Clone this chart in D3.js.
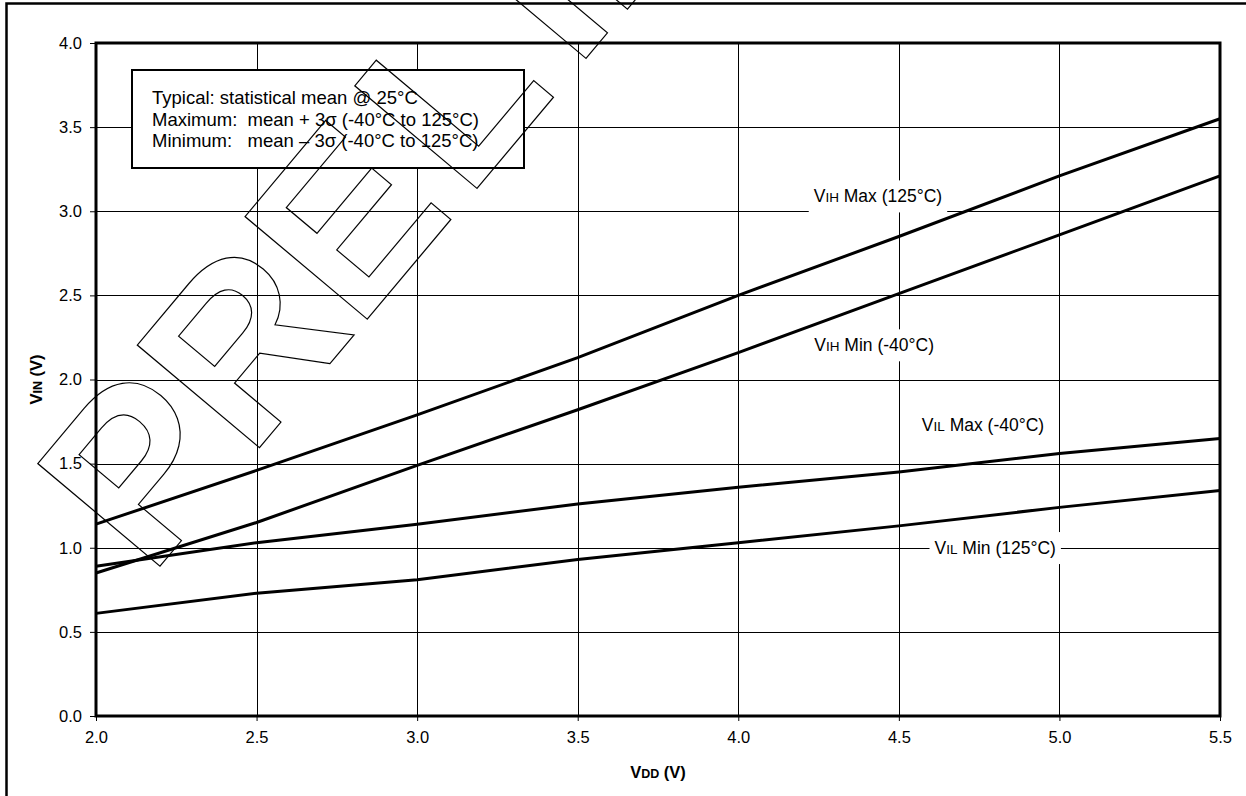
<!DOCTYPE html>
<html>
<head>
<meta charset="utf-8">
<script src="https://cdn.jsdelivr.net/npm/d3@7"></script>
<style>
  body { margin: 0; background: #fff; }
  text { font-family: "Liberation Sans", Arial, sans-serif; fill: #000; }
</style>
</head>
<body>
<div id="chart"></div>
<script>
var width = 1246;
var height = 796;

// data
var vdd = [2.0, 2.5, 3.0, 3.5, 4.0, 4.5, 5.0, 5.5];
var vihMax = [1.14, 1.46, 1.79, 2.13, 2.50, 2.85, 3.21, 3.55];
var vihMin = [0.85, 1.15, 1.49, 1.82, 2.16, 2.51, 2.86, 3.21];
var vilMax = [0.89, 1.03, 1.14, 1.26, 1.36, 1.45, 1.56, 1.65];
var vilMin = [0.61, 0.73, 0.81, 0.93, 1.03, 1.13, 1.24, 1.34];

var xTicks = [2.0, 2.5, 3.0, 3.5, 4.0, 4.5, 5.0, 5.5];
var yTicks = [0.0, 0.5, 1.0, 1.5, 2.0, 2.5, 3.0, 3.5, 4.0];

var seriesNames = [
  ["V", "IH", " Max (125°C)"],
  ["V", "IH", " Min (-40°C)"],
  ["V", "IL", " Max (-40°C)"],
  ["V", "IL", " Min (125°C)"]
];
// where each series label sits, in axis units
var labelAt = [[4.435, 3.09], [4.423, 2.205], [4.762, 1.73], [4.80, 1.0]];

var legendLines = [
  "Typical: statistical mean @ 25°C",
  "Maximum:  mean + 3σ (-40°C to 125°C)",
  "Minimum:   mean – 3σ (-40°C to 125°C)"
];

// watermark, split so the spacing can follow the original
var watermark = ["PRE", "L", "IMINARY"];

var series = [vihMax, vihMin, vilMax, vilMin];

var margin = {left: 96, top: 43, right: 26, bottom: 80};

var x = d3.scaleLinear().domain([2.0, 5.5]).range([margin.left, width - margin.right]);
var y = d3.scaleLinear().domain([0, 4.0]).range([height - margin.bottom, margin.top]);

var svg = d3.select("#chart")
  .append("svg")
  .attr("width", width)
  .attr("height", height);

svg.append("rect")
  .attr("width", "100%")
  .attr("height", "100%")
  .attr("fill", "white");

// outer frame (runs off right / bottom edge)
svg.append("rect")
  .attr("x", 6.5).attr("y", 3.5)
  .attr("width", width + 20).attr("height", height + 20)
  .attr("fill", "none")
  .attr("stroke", "#000")
  .attr("stroke-width", 2.5);

// grid
var grid = svg.append("g");
grid.selectAll("line.gx")
  .data(xTicks)
  .enter().append("line")
  .attr("x1", function(d) { return Math.round(x(d)) + 0.5; })
  .attr("x2", function(d) { return Math.round(x(d)) + 0.5; })
  .attr("y1", y(4.0)).attr("y2", y(0))
  .attr("stroke", "#000").attr("stroke-width", 1);
grid.selectAll("line.gy")
  .data(yTicks)
  .enter().append("line")
  .attr("y1", function(d) { return Math.round(y(d)) + 0.5; })
  .attr("y2", function(d) { return Math.round(y(d)) + 0.5; })
  .attr("x1", x(2.0)).attr("x2", x(5.5))
  .attr("stroke", "#000").attr("stroke-width", 1);

// axes
var xAxis = d3.axisBottom(x).tickValues(xTicks).tickFormat(d3.format(".1f")).tickSize(5).tickPadding(10);
var yAxis = d3.axisLeft(y).tickValues(yTicks).tickFormat(d3.format(".1f")).tickSize(6).tickPadding(8);

var gx = svg.append("g")
  .attr("transform", "translate(0," + y(0) + ")")
  .call(xAxis);
var gy = svg.append("g")
  .attr("transform", "translate(" + x(2.0) + ",0)")
  .call(yAxis);
[gx, gy].forEach(function(g) {
  g.select(".domain").remove();
  g.selectAll(".tick line").attr("stroke", "#000");
  g.selectAll(".tick text")
    .style("font-family", '"Liberation Sans", Arial, sans-serif')
    .style("font-size", "16.5px")
    .attr("fill", "#000");
});

// data lines
var line = d3.line()
  .x(function(d, i) { return x(vdd[i]); })
  .y(function(d) { return y(d); });

svg.selectAll("path.series")
  .data(series)
  .enter().append("path")
  .attr("class", "series")
  .attr("d", line)
  .attr("fill", "none")
  .attr("stroke", "#000")
  .attr("stroke-width", 3);

// plot border
svg.append("rect")
  .attr("x", x(2.0)).attr("y", y(4.0))
  .attr("width", x(5.5) - x(2.0))
  .attr("height", y(0) - y(4.0))
  .attr("fill", "none")
  .attr("stroke", "#000")
  .attr("stroke-width", 3);

// series labels with white knockout
seriesNames.forEach(function(n, i) {
  var g = svg.append("g");
  var bg = g.append("rect").attr("fill", "white");
  var t = g.append("text")
    .attr("x", x(labelAt[i][0]))
    .attr("y", y(labelAt[i][1]))
    .attr("dy", "0.36em")
    .attr("text-anchor", "middle")
    .style("font-size", "17.5px");
  t.append("tspan").text(n[0]);
  t.append("tspan").style("font-size", "13.5px").text(n[1]);
  t.append("tspan").text(n[2]);
  var b = t.node().getBBox();
  bg.attr("x", b.x - 5).attr("y", b.y - 6)
    .attr("width", b.width + 10).attr("height", b.height + 12);
});

// axis titles
var xt = svg.append("text")
  .attr("x", (x(2.0) + x(5.5)) / 2)
  .attr("y", 778)
  .attr("text-anchor", "middle")
  .style("font-weight", "bold")
  .style("font-size", "16.5px");
xt.append("tspan").text("V");
xt.append("tspan").style("font-size", "12.5px").text("DD");
xt.append("tspan").text(" (V)");

var yt = svg.append("text")
  .attr("transform", "translate(42," + y(2.0) + ") rotate(-90)")
  .attr("text-anchor", "middle")
  .style("font-weight", "bold")
  .style("font-size", "16.5px");
yt.append("tspan").text("V");
yt.append("tspan").style("font-size", "12.5px").text("IN");
yt.append("tspan").text(" (V)");

// legend box
svg.append("rect")
  .attr("x", 132).attr("y", 70)
  .attr("width", 392).attr("height", 98)
  .attr("fill", "white")
  .attr("stroke", "#000")
  .attr("stroke-width", 2);

svg.selectAll("text.legend")
  .data(legendLines)
  .enter().append("text")
  .attr("class", "legend")
  .attr("x", 152)
  .attr("y", function(d, i) { return 104 + i * 21.5; })
  .style("font-size", "18.5px")
  .style("white-space", "pre")
  .attr("xml:space", "preserve")
  .text(function(d) { return d; });

// watermark outline
var wm = svg.append("text")
  .attr("transform", "translate(150,578) rotate(-50)")
  .style("font-weight", "bold")
  .style("font-size", "232px")
  .style("fill", "none")
  .attr("stroke", "#000")
  .attr("stroke-width", 1.2);
wm.append("tspan").text(watermark[0]);
wm.append("tspan").attr("dx", 16).text(watermark[1]);
wm.append("tspan").attr("dx", 28).text(watermark[2]);
</script>
</body>
</html>
